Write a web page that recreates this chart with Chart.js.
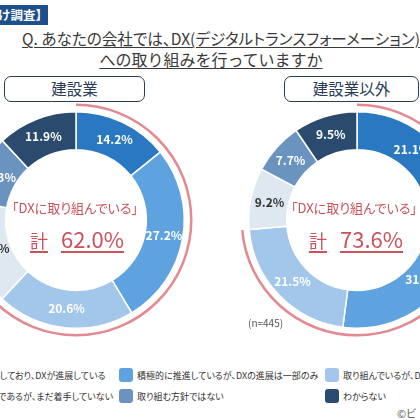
<!DOCTYPE html>
<html lang="ja">
<head>
<meta charset="utf-8">
<script src="https://cdn.jsdelivr.net/npm/chart.js@4.4.1/dist/chart.umd.min.js"></script>
<style>
  html, body { margin: 0; padding: 0; background: #fff; }
  body {
    width: 420px; height: 420px; position: relative; overflow: hidden;
    font-family: 'Noto Sans CJK JP', 'Noto Sans', sans-serif; color: #333;
    font-feature-settings: 'palt';
  }
  .abs { position: absolute; white-space: nowrap; }
  #tag {
    left: -50px; top: 5px; width: 98px; height: 20px; background: #1d4f8c;
    color: #fff; font-size: 12.5px; font-weight: bold; line-height: 20px;
    text-align: right; padding-right: 0; box-sizing: border-box;
    font-feature-settings: normal;
  }
  .q { color: #3a3a3a; line-height: 17px; text-decoration: underline; text-underline-offset: 2px; text-decoration-thickness: 1px; }
  .group {
    top: 76px; height: 26px; box-sizing: border-box; border: 1.5px solid #2c3e55;
    border-radius: 7px; background: #fff; text-align: center; font-size: 15.5px;
    line-height: 23px; color: #2a3c58;
  }
  .donut { top: 100px; width: 240px; height: 240px; }
  .center { width: 200px; text-align: center; color: #c9525c; }
  .c1 { top: 198px; font-size: 13px; line-height: 20px; }
  .c2 { top: 224px; font-size: 22px; line-height: 28px; }
  .c2 span { text-decoration: underline; text-decoration-thickness: 1.5px; text-underline-offset: 3px; }
  .c2 .kei { font-size: 18px; margin-right: 13px; }
  .n { left: 248px; top: 315px; font-size: 10px; color: #555; }
  .item { height: 16px; display: flex; align-items: center; font-size: 9px; color: #333; }
  .sw { width: 14px; height: 14px; border-radius: 3px; margin-right: 4px; flex: none; }
  .copy { left: 397px; top: 405px; font-size: 11px; color: #666; }
</style>
</head>
<body>
<div id="tag" class="abs">向け調査】</div>
<div class="abs q" style="left:22px; top:30px; font-size:15.6px;">Q. あなたの会社では、DX(デジタルトランスフォーメーション)</div>
<div class="abs" style="left:11px; top:47px; width:400px; text-align:center;">
  <span class="q" style="font-size:16px; font-feature-settings:normal;">への取り組みを行っていますか</span>
</div>

<div id="g0" class="abs group" style="left:4px; width:141px;"></div>
<div id="g1" class="abs group" style="left:284px; width:135px;"></div>

<div class="abs donut" style="left:-44px;"><canvas id="chart0" width="240" height="240"></canvas></div>
<div class="abs donut" style="left:237px;"><canvas id="chart1" width="240" height="240"></canvas></div>

<div id="t0a" class="abs center c1" style="left:-25px;"></div>
<div id="t0b" class="abs center c2" style="left:-23px;"></div>
<div id="t1a" class="abs center c1" style="left:254px;"></div>
<div id="t1b" class="abs center c2" style="left:256px;"></div>
<div class="abs n">(n=445)</div>

<div id="legend"></div>
<div class="abs copy">©ビ</div>

<script>
  // Data
  const categories = [
    '全社的に推進しており、DXが進展している',
    '積極的に推進しているが、DXの進展は一部のみ',
    '取り組んでいるが、DXの進展はこれから',
    '取り組む方針であるが、まだ着手していない',
    '取り組む方針ではない',
    'わからない'
  ]
  const groups = ['建設業', '建設業以外']
  const construction = [14.2, 27.2, 20.6, 15.8, 10.3, 11.9]
  const otherIndustries = [21.1, 31.0, 21.5, 9.2, 7.7, 9.5]
  const engagedCount = 3 // first three answers = 「DXに取り組んでいる」

  const colors = ['#2a78c2', '#5ea2df', '#a3c7eb', '#dfe7f1', '#6b93bf', '#2a4b6e']
  const labelColors = ['#fff', '#fff', '#fff', '#333', '#fff', '#fff']

  const sliceLabels = {
    id: 'sliceLabels',
    afterDatasetsDraw (chart) {
      const { ctx } = chart
      const meta = chart.getDatasetMeta(0)
      const values = chart.data.datasets[0].data
      ctx.save()
      ctx.font = '600 12px "Noto Sans CJK JP", sans-serif'
      ctx.textAlign = 'center'
      ctx.textBaseline = 'middle'
      meta.data.forEach((arc, i) => {
        const p = arc.tooltipPosition()
        ctx.fillStyle = labelColors[i]
        ctx.fillText(values[i].toFixed(1) + '%', p.x, p.y)
      })
      ctx.restore()
    }
  }

  const engagedArc = {
    id: 'engagedArc',
    afterDatasetsDraw (chart) {
      const { ctx } = chart
      const meta = chart.getDatasetMeta(0)
      const first = meta.data[0]
      const last = meta.data[engagedCount - 1]
      ctx.save()
      ctx.beginPath()
      ctx.arc(first.x, first.y, first.outerRadius + 7, first.startAngle, last.endAngle)
      ctx.strokeStyle = '#e28a90'
      ctx.lineWidth = 2.5
      ctx.stroke()
      ctx.restore()
    }
  }

  function makeDonut (id, values) {
    return new Chart(document.getElementById(id), {
      type: 'doughnut',
      data: {
        labels: categories,
        datasets: [{
          data: values,
          backgroundColor: colors,
          borderColor: '#fff',
          borderWidth: 1.5
        }]
      },
      options: {
        responsive: false,
        animation: false,
        cutout: '65%',
        layout: { padding: 11 },
        plugins: { legend: { display: false }, tooltip: { enabled: false } }
      },
      plugins: [sliceLabels, engagedArc]
    })
  }

  makeDonut('chart0', construction)
  makeDonut('chart1', otherIndustries)

  ;[construction, otherIndustries].forEach((values, g) => {
    document.getElementById('g' + g).textContent = groups[g]
    const total = values.slice(0, engagedCount).reduce((a, b) => a + b, 0)
    document.getElementById('t' + g + 'a').textContent = '「DXに取り組んでいる」'
    document.getElementById('t' + g + 'b').innerHTML =
      '<span class="kei">計</span><span>' + total.toFixed(1) + '%</span>'
  })

  // Legend: 3 columns x 2 rows
  const legend = document.getElementById('legend')
  const colX = [-72, 119, 325]
  const rowY = [367, 388]
  categories.forEach((label, i) => {
    const el = document.createElement('div')
    el.className = 'abs item'
    el.style.left = colX[i % 3] + 'px'
    el.style.top = rowY[Math.floor(i / 3)] + 'px'
    el.innerHTML = '<span class="sw" style="background:' + colors[i] + '"></span>' + label
    legend.appendChild(el)
  })
</script>
</body>
</html>
